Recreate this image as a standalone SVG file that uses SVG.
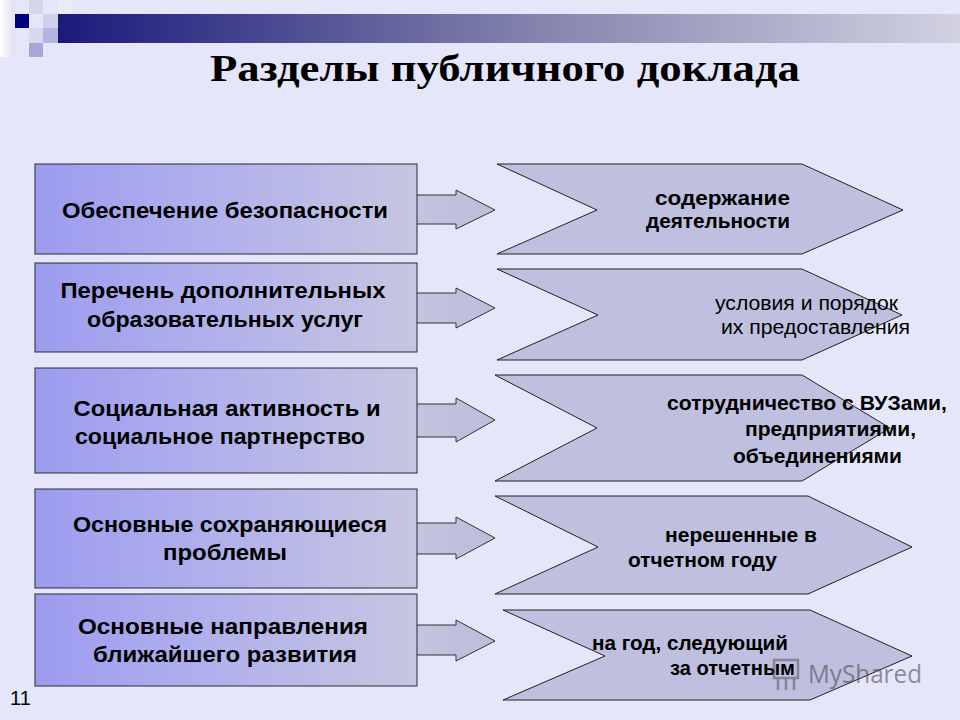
<svg xmlns="http://www.w3.org/2000/svg" width="960" height="720" viewBox="0 0 960 720">
<defs>
<linearGradient id="barGrad" x1="0" y1="0" x2="1" y2="0">
<stop offset="0" stop-color="#1a1a7c"/>
<stop offset="0.5" stop-color="#7e7eaa"/>
<stop offset="1" stop-color="#d2d2e2"/>
</linearGradient>
<linearGradient id="boxGrad" x1="0" y1="0" x2="1" y2="0">
<stop offset="0" stop-color="#9c9cf0"/>
<stop offset="0.5" stop-color="#b2b2ec"/>
<stop offset="1" stop-color="#c6c6e0"/>
</linearGradient>
<linearGradient id="arrGrad" x1="0" y1="0" x2="1" y2="0">
<stop offset="0" stop-color="#c4c4e0"/>
<stop offset="1" stop-color="#bcbcdc"/>
</linearGradient>
<linearGradient id="whiteGrad" x1="0" y1="0" x2="1" y2="0">
<stop offset="0" stop-color="#ffffff"/>
<stop offset="1" stop-color="#e0e0f0"/>
</linearGradient>
</defs>
<style>
.box{fill:url(#boxGrad);stroke:#2a2a3a;stroke-width:1}
.chev{fill:#bfbfdf;stroke:#222;stroke-width:1}
.arr{fill:url(#arrGrad);stroke:#333;stroke-width:1}
.bt{font-family:"Liberation Sans",Arial,sans-serif;font-weight:bold;font-size:22px;fill:#000;text-anchor:middle}
.ct{font-family:"Liberation Sans",Arial,sans-serif;font-weight:bold;font-size:20px;fill:#000}
.cr{font-family:"Liberation Sans",Arial,sans-serif;font-size:20px;fill:#000}
</style>
<rect x="0" y="0" width="960" height="720" fill="#e6e6fa"/>
<g id="decor">
<rect x="0" y="0" width="15" height="57" fill="url(#whiteGrad)"/>
<rect x="29" y="0" width="14" height="14" fill="#d6d6ea"/>
<rect x="58" y="0" width="14" height="14" fill="#ececf6"/>
<rect x="15" y="14" width="14" height="14" fill="#00007c"/>
<rect x="43" y="14" width="15" height="14" fill="#d0d0e8"/>
<rect x="29" y="28" width="14" height="15" fill="#d8d8ee"/>
<rect x="43" y="28" width="15" height="15" fill="#b4b4e2"/>
<rect x="29" y="43" width="14" height="14" fill="#a6a6d8"/>
<rect x="58" y="14" width="902" height="29" fill="url(#barGrad)"/>
</g>
<text x="505" y="81" font-family="'Liberation Serif','Times New Roman',serif" font-weight="bold" font-size="37" text-anchor="middle" textLength="590" lengthAdjust="spacingAndGlyphs" fill="#000">Разделы публичного доклада</text>
<g id="connectors">
<path class="arr" d="M416,195 H456 V190 L495,210 L456,229 V224 H416"/>
<path class="arr" d="M416,293 H456 V288 L495,308 L456,328 V323 H416"/>
<path class="arr" d="M416,404 H456 V398 L495,420 L456,442 V437 H416"/>
<path class="arr" d="M416,523 H456 V517 L495,538 L456,559 V554 H416"/>
<path class="arr" d="M416,625 H456 V620 L495,641 L456,661 V655 H416"/>
</g>
<g id="node1">
<rect class="box" x="35" y="164" width="382" height="90"/>
<text class="bt" x="225" y="218" textLength="326" lengthAdjust="spacingAndGlyphs">Обеспечение безопасности</text>
</g>
<g id="node2">
<rect class="box" x="35" y="263" width="382" height="89"/>
<text class="bt" x="223" y="298" textLength="325" lengthAdjust="spacingAndGlyphs">Перечень дополнительных</text>
<text class="bt" x="225" y="327" textLength="276" lengthAdjust="spacingAndGlyphs">образовательных услуг</text>
</g>
<g id="node3">
<rect class="box" x="35" y="368" width="382" height="105"/>
<text class="bt" x="227" y="416" textLength="307" lengthAdjust="spacingAndGlyphs">Социальная активность и</text>
<text class="bt" x="220" y="444" textLength="290" lengthAdjust="spacingAndGlyphs">социальное партнерство</text>
</g>
<g id="node4">
<rect class="box" x="35" y="489" width="382" height="99"/>
<text class="bt" x="230" y="532" textLength="314" lengthAdjust="spacingAndGlyphs">Основные сохраняющиеся</text>
<text class="bt" x="225" y="560" textLength="124" lengthAdjust="spacingAndGlyphs">проблемы</text>
</g>
<g id="node5">
<rect class="box" x="35" y="594" width="382" height="92"/>
<text class="bt" x="223" y="634" textLength="290" lengthAdjust="spacingAndGlyphs">Основные направления</text>
<text class="bt" x="225" y="662" textLength="264" lengthAdjust="spacingAndGlyphs">ближайшего развития</text>
</g>
<g id="chev1">
<polygon class="chev" points="497,164 802,164 903,210 802,254 497,254 597,210"/>
<text class="ct" x="655" y="205" textLength="135" lengthAdjust="spacingAndGlyphs">содержание</text>
<text class="ct" x="646" y="228" textLength="144" lengthAdjust="spacingAndGlyphs">деятельности</text>
</g>
<g id="chev2">
<polygon class="chev" points="497,269 802,269 902,315 802,360 497,360 598,315"/>
<text class="cr" x="715" y="310" textLength="183" lengthAdjust="spacingAndGlyphs">условия и порядок</text>
<text class="cr" x="721" y="334" textLength="189" lengthAdjust="spacingAndGlyphs">их предоставления</text>
</g>
<g id="chev3">
<polygon class="chev" points="495,375 802,375 890,428 802,481 495,481 597,428"/>
<text class="ct" x="667" y="410" textLength="280" lengthAdjust="spacingAndGlyphs">сотрудничество с ВУЗами,</text>
<text class="ct" x="745" y="436" textLength="171" lengthAdjust="spacingAndGlyphs">предприятиями,</text>
<text class="ct" x="733" y="463" textLength="169" lengthAdjust="spacingAndGlyphs">объединениями</text>
</g>
<g id="chev4">
<polygon class="chev" points="495,496 808,496 912,547 808,594 495,594 598,547"/>
<text class="ct" x="665" y="542" textLength="152" lengthAdjust="spacingAndGlyphs">нерешенные в</text>
<text class="ct" x="628" y="567" textLength="149" lengthAdjust="spacingAndGlyphs">отчетном году</text>
</g>
<g id="chev5">
<polygon class="chev" points="503,610 810,610 912,656 810,700 503,700 605,656"/>
<text class="ct" x="592" y="650" textLength="196" lengthAdjust="spacingAndGlyphs">на год, следующий</text>
<text class="ct" x="670" y="675" textLength="125" lengthAdjust="spacingAndGlyphs">за отчетным</text>
</g>
<g id="watermark" opacity="0.55">
<rect x="774" y="660" width="24" height="18" fill="none" stroke="#555" stroke-width="2.5"/>
<path d="M778,678 V690 M786,678 V690 M794,678 V690" stroke="#555" stroke-width="2.5"/>
<text x="808" y="683" font-family="'Open Sans','Noto Sans',sans-serif" font-size="26" fill="#444" textLength="114" lengthAdjust="spacingAndGlyphs">MyShared</text>
</g>
<text x="10" y="705" font-family="'Liberation Sans',Arial,sans-serif" font-size="20" fill="#000">11</text>
</svg>
